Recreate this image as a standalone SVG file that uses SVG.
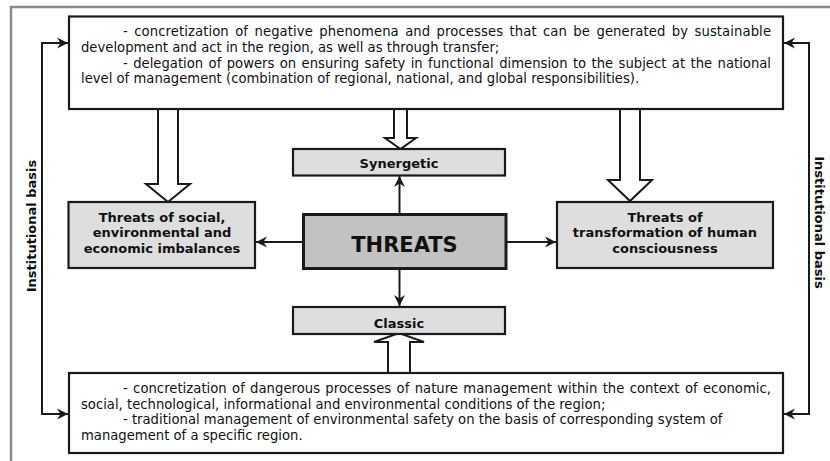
<svg xmlns="http://www.w3.org/2000/svg" width="830" height="461" viewBox="0 0 830 461">
<style>
  .frame{fill:none;stroke:#8a8a8a;stroke-width:2.5}
  .box{fill:#fff;stroke:#1a1a1a;stroke-width:2.2}
  .lbox{fill:#dedede;stroke:#1a1a1a;stroke-width:2.2}
  .main{fill:#c2c2c2;stroke:#1a1a1a;stroke-width:3}
  .body{font-family:"DejaVu Sans",Verdana,sans-serif;font-size:13.2px;fill:#111}
  .bold{font-family:"DejaVu Sans",Verdana,sans-serif;font-size:13px;font-weight:bold;fill:#111;text-anchor:middle}
  .big{font-family:"DejaVu Sans",Verdana,sans-serif;font-size:21px;font-weight:bold;fill:#111;text-anchor:middle}
  .conn{fill:none;stroke:#1a1a1a;stroke-width:2}
  .block{fill:#fff;stroke:#1a1a1a;stroke-width:2;stroke-linejoin:miter}
</style>
<defs>
  <marker id="ah" markerUnits="userSpaceOnUse" markerWidth="14" markerHeight="14" viewBox="-12 -7 14 14" refX="0" refY="0" orient="auto-start-reverse">
    <path d="M0,0 L-11,-5.5 L-7.5,0 L-11,5.5 Z" fill="#1a1a1a"/>
  </marker>
</defs>

<path class="frame" d="M11,470 V7 H840"/>

<g id="connectors">
  <path class="conn" d="M68,43 H42 V414 H68" marker-start="url(#ah)" marker-end="url(#ah)"/>
  <path class="conn" d="M784,43 H809 V414 H784" marker-start="url(#ah)" marker-end="url(#ah)"/>
  <path class="conn" d="M303,242 H256" marker-end="url(#ah)"/>
  <path class="conn" d="M506,242 H556" marker-end="url(#ah)"/>
  <path class="conn" d="M399.5,214 V176" marker-end="url(#ah)"/>
  <path class="conn" d="M399.5,269 V306" marker-end="url(#ah)"/>
  <path class="block" d="M158,109 V184 H146 L168,202 L190,184 H178 V109"/>
  <path class="block" d="M394,109 V138 H385 L400.5,149 L416,138 H407 V109"/>
  <path class="block" d="M620,109 V180 H608 L630,201 L652,180 H640 V109"/>
  <path class="block" d="M388,373 V342 H374 L399,333 L424,342 H410 V373"/>
</g>

<g id="top-box">
  <rect class="box" x="69" y="16.5" width="714" height="92.5"/>
  <text class="body" x="123" y="36" word-spacing="2.1" textLength="648" lengthAdjust="spacing">- concretization of negative phenomena and processes that can be generated by sustainable</text>
  <text class="body" x="81" y="52">development and act in the region, as well as through transfer;</text>
  <text class="body" x="123" y="67.5" word-spacing="1.2" textLength="648" lengthAdjust="spacing">- delegation of powers on ensuring safety in functional dimension to the subject at the national</text>
  <text class="body" x="81" y="83">level of management (combination of regional, national, and global responsibilities).</text>
</g>

<g id="synergetic">
  <rect class="lbox" x="293" y="149" width="212" height="26.5"/>
  <text class="bold" x="399" y="168">Synergetic</text>
</g>

<g id="threats-left">
  <rect class="lbox" x="68.5" y="202" width="186.5" height="66"/>
  <text class="bold" x="162" y="221.5">Threats of social,</text>
  <text class="bold" x="162" y="237">environmental and</text>
  <text class="bold" x="162" y="252.5">economic imbalances</text>
</g>

<g id="threats">
  <rect class="main" x="303.5" y="214.5" width="202.5" height="54"/>
  <text class="big" x="404.5" y="252">THREATS</text>
</g>

<g id="threats-right">
  <rect class="lbox" x="557" y="202" width="216" height="66"/>
  <text class="bold" x="665" y="221.5">Threats of</text>
  <text class="bold" x="665" y="237">transformation of human</text>
  <text class="bold" x="665" y="252.5">consciousness</text>
</g>

<g id="classic">
  <rect class="lbox" x="293" y="307" width="212" height="27"/>
  <text class="bold" x="399" y="327.5">Classic</text>
</g>

<g id="bottom-box">
  <rect class="box" x="69" y="373" width="714" height="80"/>
  <text class="body" x="123" y="393" word-spacing="1.1" textLength="648" lengthAdjust="spacing">- concretization of dangerous processes of nature management within the context of economic,</text>
  <text class="body" x="81" y="408.5">social, technological, informational and environmental conditions of the region;</text>
  <text class="body" x="123" y="424">- traditional management of environmental safety on the basis of corresponding system of</text>
  <text class="body" x="81" y="440">management of a specific region.</text>
</g>

<g id="institutional-left">
  <text class="bold" transform="translate(36,226) rotate(-90)">Institutional basis</text>
</g>
<g id="institutional-right">
  <text class="bold" transform="translate(815,222.5) rotate(90)">Institutional basis</text>
</g>
</svg>
